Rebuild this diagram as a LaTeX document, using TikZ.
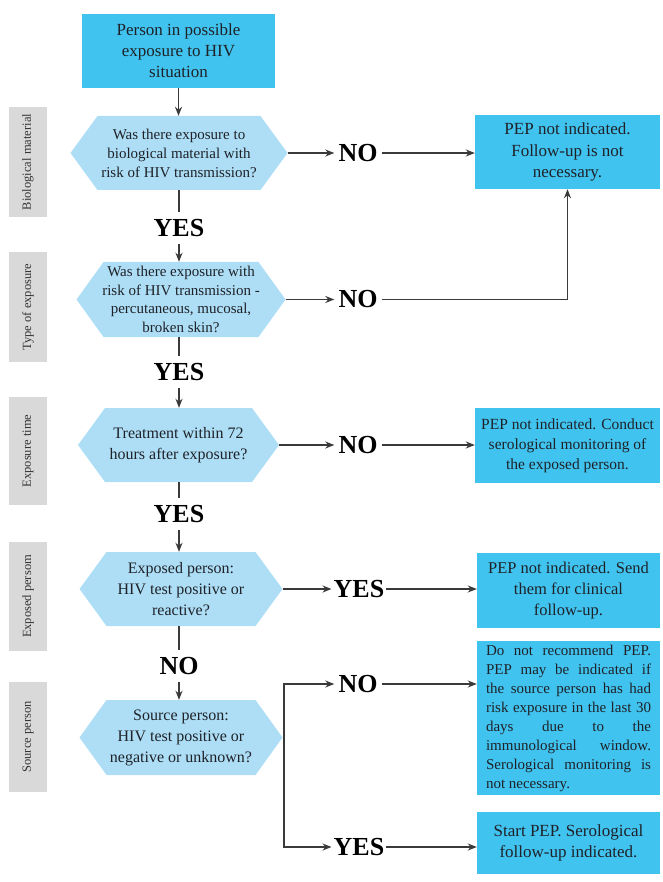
\documentclass[tikz,border=0pt]{standalone}
\usepackage{fontspec}
\setmainfont{Liberation Serif}
\usetikzlibrary{arrows.meta}
\definecolor{boxblue}{HTML}{41C3EF}
\definecolor{hexblue}{HTML}{AEDEF6}
\definecolor{labgray}{HTML}{D9D9D9}
\definecolor{txt}{HTML}{1E2228}
\definecolor{arr}{HTML}{3A3A3A}
\begin{document}
\begin{tikzpicture}[x=1pt,y=-1pt,
  resbox/.style={fill=boxblue, inner sep=0pt, align=center, text=txt},
  hexnode/.style={inner sep=0pt, align=center, text=txt,
     path picture={\fill[hexblue] (path picture bounding box.west)
       -- ([xshift=27pt]path picture bounding box.north west)
       -- ([xshift=-27pt]path picture bounding box.north east)
       -- (path picture bounding box.east)
       -- ([xshift=-27pt]path picture bounding box.south east)
       -- ([xshift=27pt]path picture bounding box.south west) -- cycle;}},
  sidelab/.style={fill=labgray, inner sep=0pt, rotate=90, minimum width=110pt,
     minimum height=38pt, text=black!80, font=\fontsize{12.5}{14}\selectfont},
  declab/.style={font=\bfseries\fontsize{26}{26}\selectfont, inner xsep=4pt,
     inner ysep=7pt, text=black},
  conn/.style={draw=arr, line width=1.5pt, -{Stealth[length=9pt,width=7pt]}},
  plain/.style={draw=arr, line width=1.5pt}
]
\useasboundingbox (0,0) rectangle (662,882);

% side labels
\node[sidelab] (s1) at (28,162) {Biological material};
\node[sidelab] (s2) at (28,307) {Type of exposure};
\node[sidelab, minimum width=108pt] (s3) at (28,451) {Exposure time};
\node[sidelab, minimum width=109pt] (s4) at (28,596.5) {Exposed persom};
\node[sidelab] (s5) at (28,737) {Source person};

% top box
\node[resbox, minimum width=193pt, minimum height=74pt,
  font=\fontsize{17}{21}\selectfont] (top) at (178.5,51)
  {Person in possible\\exposure to HIV\\situation};

% decision hexagons
\node[hexnode, minimum width=217pt, minimum height=74pt,
  font=\fontsize{15}{19}\selectfont] (h1) at (179,153)
  {Was there exposure to\\biological material with\\risk of HIV transmission?};
\node[hexnode, minimum width=209pt, minimum height=75pt,
  font=\fontsize{15}{18.5}\selectfont] (h2) at (181,299.5)
  {Was there exposure with\\risk of HIV transmission -\\percutaneous, mucosal,\\broken skin?};
\node[hexnode, minimum width=201pt, minimum height=74pt,
  font=\fontsize{16}{21}\selectfont] (h3) at (178.5,445)
  {Treatment within 72\\hours after exposure?};
\node[hexnode, minimum width=203pt, minimum height=74pt,
  font=\fontsize{16}{21}\selectfont] (h4) at (181,589)
  {Exposed person:\\HIV test positive or\\reactive?};
\node[hexnode, minimum width=203pt, minimum height=75pt,
  font=\fontsize{16}{21}\selectfont] (h5) at (181,737.5)
  {Source person:\\HIV test positive or\\negative or unknown?};

% result boxes
\node[resbox, minimum width=185pt, minimum height=74pt,
  font=\fontsize{17}{21.5}\selectfont] (b1) at (567.5,152)
  {PEP not indicated.\\Follow-up is not\\necessary.};
\node[resbox, minimum width=185pt, minimum height=75pt,
  font=\fontsize{15.5}{20}\selectfont] (b3) at (567.5,445.5)
  {PEP not indicated. Conduct\\serological monitoring of\\the exposed person.};
\node[resbox, minimum width=183pt, minimum height=75pt,
  font=\fontsize{16.5}{21}\selectfont] (b4) at (568.5,590.5)
  {PEP not indicated. Send\\them for clinical\\follow-up.};
\node[resbox, minimum width=183pt, minimum height=154pt, text width=165pt,
  align=justify, font=\fontsize{15}{19}\selectfont] (b5) at (568.5,718)
  {\hyphenpenalty10000\relax Do not recommend PEP.\linebreak PEP may be indicated if\linebreak the source person has had\linebreak risk exposure in the last 30\linebreak days due to the\linebreak immunological window.\linebreak Serological monitoring is\linebreak not necessary.};
\node[resbox, minimum width=183pt, minimum height=62pt,
  font=\fontsize{17}{21.5}\selectfont] (b6) at (568.5,843)
  {Start PEP. Serological\\follow-up indicated.};

% decision labels
\node[declab] (yes1) at (179,228) {YES};
\node[declab] (yes2) at (179,372) {YES};
\node[declab] (yes3) at (179,514) {YES};
\node[declab] (no4) at (179,666) {NO};
\node[declab] (no1) at (358,153) {NO};
\node[declab] (no2) at (358,299.5) {NO};
\node[declab] (no3) at (358,445) {NO};
\node[declab, inner xsep=2pt] (yes4) at (359,589) {YES};
\node[declab] (no5) at (358,684) {NO};
\node[declab, inner xsep=2pt] (yes5) at (359,847) {YES};
\coordinate (split) at (284,737.5);

% connectors
\draw[conn] (top) -- (top |- h1.north);
\draw[plain] (h1.south -| yes1) -- (yes1);
\draw[conn] (yes1) -- (yes1 |- h2.north);
\draw[plain] (h2.south -| yes2) -- (yes2);
\draw[conn] (yes2) -- (yes2 |- h3.north);
\draw[plain] (h3.south -| yes3) -- (yes3);
\draw[conn] (yes3) -- (yes3 |- h4.north);
\draw[plain] (h4.south -| no4) -- (no4);
\draw[conn] (no4) -- (no4 |- h5.north);

\draw[conn] (h1.east) -- (no1);
\draw[conn] (no1.east) -- (no1.east -| b1.west);
\draw[conn] (h2.east) -- (no2);
\draw[conn] (no2.east) -| (b1.south);
\draw[conn] (h3.east) -- (no3);
\draw[conn] (no3.east) -- (no3.east -| b3.west);
\draw[conn] (h4.east) -- (yes4);
\draw[conn] (yes4.east) -- (yes4.east -| b4.west);
\draw[plain] (h5.east) -- (split);
\draw[conn] (split) |- (no5.west);
\draw[conn] (split) |- (yes5.west);
\draw[conn] (no5.east) -- (no5.east -| b5.west);
\draw[conn] (yes5.east) -- (yes5.east -| b6.west);
\end{tikzpicture}
\end{document}
